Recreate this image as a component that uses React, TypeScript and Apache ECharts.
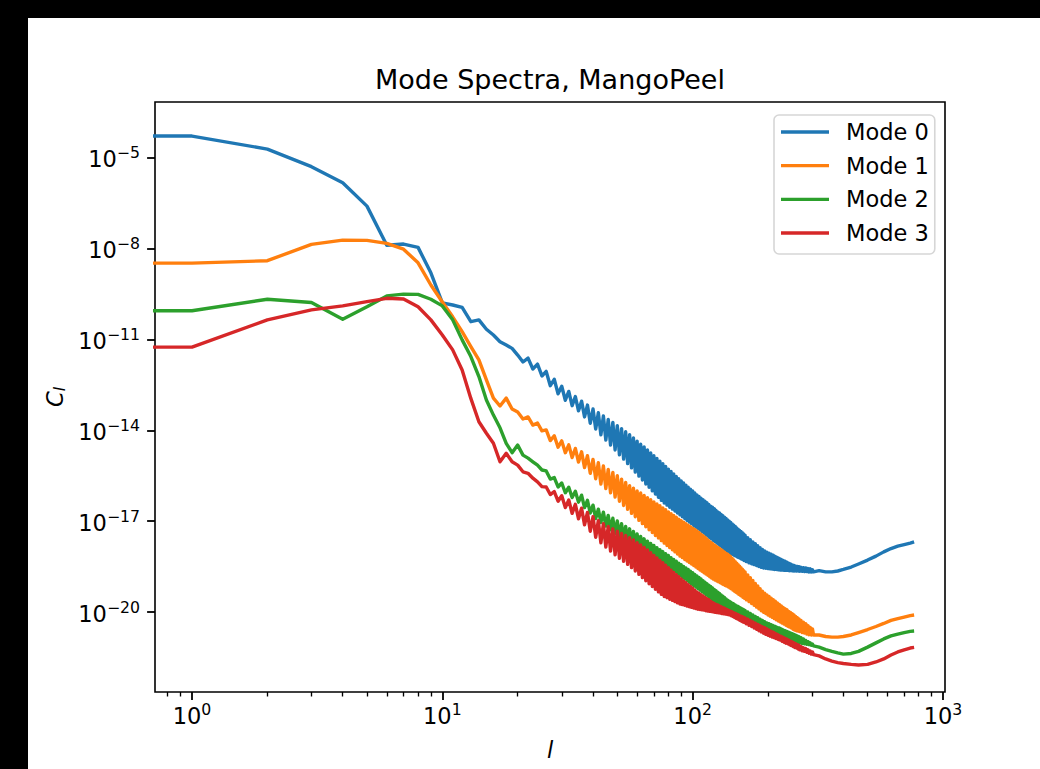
import React, { useEffect, useRef } from "react";
import * as echarts from "echarts";

const ells = [
  0, 1, 2, 3, 4, 5, 6, 7, 8, 9, 10, 11, 12, 13, 14, 15, 16, 17, 18, 19, 20, 21, 22, 23, 24, 25,
  26, 27, 28, 29, 30, 31, 32, 33, 34, 35, 36, 37, 38, 39, 40, 41, 42, 43, 44, 45, 46, 47, 48, 49, 50,
  51, 52, 53, 54, 55, 56, 57, 58, 59, 60, 61, 62, 63, 64, 65, 66, 67, 68, 69, 70, 71, 72, 73, 74, 75,
  76, 77, 78, 79, 80, 81, 82, 83, 84, 85, 86, 87, 88, 89, 90, 91, 92, 93, 94, 95, 96, 97, 98, 99, 100,
  101, 102, 103, 104, 105, 106, 107, 108,
  109, 110, 111, 112, 113, 114, 115, 116, 117, 118, 119, 120, 121, 122, 123, 124, 125, 126, 127, 128, 129, 130,
  131, 132, 133, 134, 135, 136, 137, 138, 139, 140, 141, 142, 143, 144, 145, 146, 147, 148, 149, 150,
  151, 152, 153, 154, 155, 156, 157, 158, 159, 160, 161, 162,
  164, 166, 168, 170, 172, 174, 176, 178, 180, 182, 184, 186, 188, 190, 192, 194, 196, 198, 200, 202, 204, 206, 208, 210, 212, 214, 216,
  218, 220, 222, 224, 226, 228, 230, 232, 234, 236, 238, 240, 242, 244, 246, 248, 250, 252, 254, 256, 258, 260, 262, 264, 266, 268,
  271, 274, 277, 280, 283, 286, 289, 292, 295, 298, 301, 304,
  320, 340, 360, 380, 400, 430, 460, 500, 540, 580, 620, 660, 700, 740, 767,
];

// log10(C_l) for each mode, aligned with ells
const mode0 = [
  -4.30, -4.30, -4.73, -5.31, -5.84, -6.61, -7.90, -7.86, -7.97, -8.81, -9.80, -9.87, -9.95, -10.42, -10.36, -10.67, -10.86, -11.08, -11.19, -11.30, -11.52, -11.75, -11.62, -11.98, -11.82, -12.21,
  -12.06, -12.53, -12.32, -12.80, -12.55, -13.01, -12.72, -13.19, -12.89, -13.36,
  -13.04, -13.56, -13.17, -13.77, -13.30, -13.96, -13.42, -14.15, -13.53, -14.32,
  -13.64, -14.49, -13.74, -14.65, -13.85, -14.81, -13.95, -14.95, -14.05, -15.10,
  -14.15, -15.24, -14.25, -15.38, -14.36, -15.51, -14.46, -15.64, -14.55, -15.77,
  -14.65, -15.88, -14.75, -16.00, -14.84, -16.10, -14.93, -16.21, -15.02, -16.31,
  -15.10, -16.40, -15.19, -16.47, -15.28, -16.54, -15.36, -16.60, -15.44, -16.66,
  -15.52, -16.73, -15.60, -16.79, -15.67, -16.85, -15.74, -16.91, -15.81, -16.97,
  -15.88, -17.03, -15.94, -17.08, -16.00, -17.14, -16.07, -17.19, -16.13, -17.24,
  -16.18, -17.29, -16.24,
  -17.34, -16.29, -17.39, -16.34, -17.44, -16.39, -17.49, -16.45, -17.54, -16.50, -17.58, -16.54,
  -17.63, -16.59, -17.67, -16.64, -17.72, -16.69, -17.76, -16.73, -17.80, -16.78,
  -17.85, -16.82, -17.89, -16.87, -17.93, -16.91, -17.97, -16.96, -18.01, -17.00,
  -18.05, -17.04, -18.08, -17.09, -18.10, -17.13, -18.13, -17.17, -18.15, -17.22,
  -18.18, -17.26, -18.20, -17.30, -18.22, -17.34, -18.25, -17.38, -18.27, -17.42, -18.30, -17.46,
  -18.33, -17.54, -18.37, -17.61, -18.40, -17.68, -18.43, -17.74, -18.46, -17.81, -18.49, -17.87, -18.52, -17.93, -18.54, -17.98, -18.55, -18.02, -18.56, -18.05, -18.57, -18.09, -18.58, -18.12, -18.59, -18.16, -18.59,
  -18.19, -18.60, -18.23, -18.61, -18.26, -18.61, -18.29, -18.62, -18.32, -18.62, -18.35, -18.62, -18.38, -18.63, -18.41, -18.63, -18.44, -18.64, -18.46, -18.64, -18.48, -18.64, -18.49, -18.64, -18.50, -18.65,
  -18.52, -18.65, -18.53, -18.66, -18.54, -18.66, -18.56, -18.67, -18.57, -18.67, -18.60, -18.67,
  -18.63, -18.67, -18.67, -18.64, -18.59, -18.51, -18.41, -18.28, -18.15, -18.01, -17.90, -17.82, -17.77, -17.72, -17.68,
];

const mode1 = [
  -8.49, -8.49, -8.41, -7.87, -7.73, -7.74, -7.84, -8.03, -8.48, -9.21, -9.77, -10.26, -10.75, -11.24, -11.68, -12.34, -12.94, -13.20, -12.94, -13.30, -13.40, -13.63, -13.56, -13.83, -13.76, -14.02,
  -13.99, -14.34, -14.18, -14.56, -14.35, -14.74, -14.48, -14.90, -14.60, -15.05,
  -14.71, -15.23, -14.84, -15.42, -14.96, -15.60, -15.07, -15.77, -15.18, -15.92,
  -15.29, -16.06, -15.39, -16.20, -15.50, -16.34, -15.61, -16.48, -15.72, -16.61,
  -15.83, -16.74, -15.91, -16.85, -16.00, -16.97, -16.07, -17.08, -16.15, -17.18,
  -16.22, -17.28, -16.29, -17.37, -16.36, -17.47, -16.43, -17.55, -16.49, -17.64,
  -16.56, -17.72, -16.62, -17.80, -16.69, -17.87, -16.75, -17.94, -16.81, -18.01,
  -16.87, -18.08, -16.93, -18.15, -16.98, -18.20, -17.03, -18.26, -17.08, -18.31,
  -17.13, -18.36, -17.18, -18.41, -17.23, -18.46, -17.27, -18.51, -17.32, -18.56,
  -17.37, -18.61, -17.43,
  -18.65, -17.48, -18.70, -17.53, -18.74, -17.58, -18.78, -17.64, -18.83, -17.69, -18.87, -17.73,
  -18.91, -17.78, -18.94, -17.82, -18.97, -17.86, -19.00, -17.90, -19.03, -17.94,
  -19.06, -17.98, -19.09, -18.02, -19.12, -18.06, -19.14, -18.09, -19.17, -18.13,
  -19.20, -18.17, -19.23, -18.23, -19.27, -18.28, -19.31, -18.33, -19.34, -18.38,
  -19.37, -18.43, -19.41, -18.48, -19.44, -18.53, -19.47, -18.58, -19.51, -18.63, -19.54, -18.67,
  -19.59, -18.77, -19.65, -18.86, -19.71, -18.95, -19.77, -19.05, -19.83, -19.13, -19.89, -19.22, -19.95, -19.31, -20.00, -19.37, -20.04, -19.43, -20.09, -19.48, -20.13, -19.54, -20.17, -19.59, -20.21, -19.64, -20.25,
  -19.69, -20.29, -19.74, -20.32, -19.79, -20.36, -19.84, -20.39, -19.88, -20.43, -19.92, -20.46, -19.97, -20.49, -20.01, -20.52, -20.05, -20.56, -20.09, -20.59, -20.14, -20.61, -20.18, -20.62, -20.22, -20.64,
  -20.27, -20.67, -20.33, -20.69, -20.38, -20.72, -20.44, -20.74, -20.50, -20.75, -20.55, -20.75,
  -20.75, -20.80, -20.82, -20.82, -20.80, -20.75, -20.67, -20.57, -20.47, -20.37, -20.27, -20.21, -20.16, -20.11, -20.09,
];

const mode2 = [
  -10.06, -10.06, -9.68, -9.79, -10.34, -9.93, -9.57, -9.51, -9.52, -9.68, -9.90, -10.36, -11.02, -11.57, -12.23, -13.00, -13.50, -13.92, -14.43, -14.74, -14.49, -14.82, -14.92, -15.04, -15.15, -15.31,
  -15.34, -15.61, -15.56, -15.87, -15.74, -16.06, -15.88, -16.22, -16.01, -16.37,
  -16.14, -16.55, -16.31, -16.73, -16.47, -16.91, -16.60, -17.04, -16.70, -17.16,
  -16.81, -17.28, -16.90, -17.40, -16.99, -17.51, -17.08, -17.62, -17.17, -17.72,
  -17.25, -17.81, -17.34, -17.88, -17.42, -17.94, -17.50, -18.00, -17.58, -18.07,
  -17.66, -18.13, -17.73, -18.18, -17.80, -18.24, -17.87, -18.30, -17.94, -18.35,
  -18.00, -18.41, -18.07, -18.48, -18.13, -18.54, -18.20, -18.61, -18.26, -18.67,
  -18.32, -18.73, -18.38, -18.79, -18.43, -18.85, -18.49, -18.90, -18.54, -18.96,
  -18.59, -19.01, -18.65, -19.07, -18.70, -19.12, -18.75, -19.17, -18.80, -19.22,
  -18.85, -19.27, -18.90,
  -19.32, -18.96, -19.37, -19.01, -19.42, -19.06, -19.47, -19.11, -19.52, -19.15, -19.56, -19.20,
  -19.61, -19.25, -19.66, -19.29, -19.70, -19.34, -19.74, -19.38, -19.79, -19.43,
  -19.83, -19.47, -19.87, -19.51, -19.91, -19.56, -19.95, -19.60, -19.99, -19.64,
  -20.03, -19.67, -20.05, -19.70, -20.08, -19.73, -20.11, -19.76, -20.13, -19.79,
  -20.15, -19.81, -20.18, -19.84, -20.20, -19.87, -20.23, -19.89, -20.25, -19.92, -20.27, -19.94,
  -20.31, -19.99, -20.35, -20.04, -20.39, -20.09, -20.44, -20.14, -20.48, -20.18, -20.52, -20.23, -20.56, -20.27, -20.59, -20.31, -20.63, -20.35, -20.65, -20.38, -20.68, -20.41, -20.70, -20.44, -20.72, -20.47, -20.75,
  -20.50, -20.77, -20.52, -20.79, -20.55, -20.81, -20.58, -20.83, -20.61, -20.85, -20.63, -20.87, -20.66, -20.89, -20.68, -20.91, -20.71, -20.93, -20.73, -20.95, -20.76, -20.97, -20.78, -20.99, -20.81, -21.01,
  -20.84, -21.03, -20.88, -21.04, -20.93, -21.06, -20.97, -21.07, -21.01, -21.09, -21.05, -21.11,
  -21.15, -21.23, -21.29, -21.34, -21.38, -21.36, -21.29, -21.15, -21.01, -20.88, -20.78, -20.72, -20.67, -20.63, -20.62,
];

const mode3 = [
  -11.26, -11.26, -10.36, -10.03, -9.90, -9.76, -9.65, -9.67, -9.93, -10.36, -10.86, -11.35, -12.01, -12.95, -13.72, -14.10, -14.43, -15.04, -14.76, -15.04, -15.15, -15.37, -15.42, -15.58, -15.70, -15.86,
  -15.87, -16.12, -16.02, -16.34, -16.16, -16.55, -16.30, -16.74, -16.44, -16.92,
  -16.57, -17.12, -16.71, -17.33, -16.85, -17.53, -16.98, -17.71, -17.08, -17.85,
  -17.17, -17.98, -17.25, -18.11, -17.33, -18.22, -17.40, -18.32, -17.47, -18.42,
  -17.54, -18.53, -17.62, -18.64, -17.71, -18.75, -17.78, -18.86, -17.86, -18.96,
  -17.95, -19.06, -18.04, -19.15, -18.13, -19.24, -18.21, -19.33, -18.29, -19.41,
  -18.37, -19.48, -18.45, -19.52, -18.53, -19.57, -18.61, -19.61, -18.69, -19.65,
  -18.76, -19.69, -18.83, -19.73, -18.90, -19.75, -18.97, -19.77, -19.03, -19.80,
  -19.09, -19.82, -19.15, -19.84, -19.21, -19.86, -19.27, -19.88, -19.33, -19.90,
  -19.37, -19.91, -19.42,
  -19.92, -19.46, -19.93, -19.51, -19.95, -19.55, -19.96, -19.59, -19.97, -19.64, -19.98, -19.68,
  -19.99, -19.71, -20.00, -19.74, -20.01, -19.76, -20.02, -19.79, -20.03, -19.82,
  -20.04, -19.85, -20.05, -19.87, -20.06, -19.90, -20.07, -19.92, -20.08, -19.95,
  -20.09, -19.97, -20.12, -19.99, -20.14, -20.02, -20.17, -20.04, -20.20, -20.06,
  -20.22, -20.08, -20.25, -20.11, -20.27, -20.13, -20.30, -20.15, -20.32, -20.17, -20.34, -20.19,
  -20.38, -20.23, -20.43, -20.27, -20.47, -20.32, -20.52, -20.36, -20.56, -20.40, -20.61, -20.44, -20.65, -20.48, -20.69, -20.51, -20.73, -20.55, -20.76, -20.59, -20.79, -20.63, -20.82, -20.66, -20.84, -20.70, -20.87,
  -20.73, -20.90, -20.77, -20.92, -20.80, -20.96, -20.83, -20.99, -20.86, -21.02, -20.89, -21.04, -20.92, -21.07, -20.95, -21.10, -20.98, -21.13, -21.01, -21.16, -21.04, -21.18, -21.07, -21.21, -21.09, -21.24,
  -21.13, -21.27, -21.17, -21.29, -21.20, -21.32, -21.24, -21.35, -21.28, -21.38, -21.31, -21.40,
  -21.44, -21.54, -21.61, -21.66, -21.69, -21.72, -21.74, -21.72, -21.64, -21.54, -21.41, -21.31, -21.24, -21.18, -21.16,
];

const seriesNames = ["Mode 0", "Mode 1", "Mode 2", "Mode 3"];
const seriesColors = ["#1f77b4", "#ff7f0e", "#2ca02c", "#d62728"];
const xMajorTicks = [1, 10, 100, 1000];
const xMinorTicks = [0.8, 0.9, 2, 3, 4, 5, 6, 7, 8, 9, 20, 30, 40, 50, 60, 70, 80, 90, 200, 300, 400, 500, 600, 700, 800, 900];
const yMajorTicks = [1e-20, 1e-17, 1e-14, 1e-11, 1e-8, 1e-5];

const FONT = "DejaVu Sans";

export default function App() {
  const ref = useRef<HTMLDivElement>(null);

  useEffect(() => {
    const chart = echarts.init(ref.current!, undefined, { renderer: "svg" });
    const modes = [mode0, mode1, mode2, mode3];

    const powLabel = (v: number) => {
      const e = Math.round(Math.log10(v));
      const s = e < 0 ? "\u2212" + String(-e) : String(e);
      return "{b|10}{s|" + s + "}";
    };
    const tickRich = {
      b: { fontFamily: FONT, fontSize: 22.5, color: "#000", lineHeight: 22, padding: [4, 0, 0, 0] },
      s: { fontFamily: FONT, fontSize: 15.7, color: "#000", lineHeight: 15.5, padding: [0, 0, 10, 0] },
    };

    const xMin = 0.7115;
    const xMax = 1019;

    const option: any = {
      animation: false,
      backgroundColor: "#ffffff",
      title: {
        text: "Mode Spectra, MangoPeel",
        left: 550,
        top: 66,
        textAlign: "center",
        padding: 0,
        textStyle: { fontFamily: FONT, fontSize: 27, fontWeight: "normal", color: "#000", lineHeight: 27 },
      },
      grid: {
        left: 155,
        top: 102,
        width: 790,
        height: 590,
        show: true,
        borderColor: "#000",
        borderWidth: 1.6,
        backgroundColor: "transparent",
      },
      legend: {
        orient: "vertical",
        left: 774,
        top: 115,
        padding: [4, 6, 8, 7],
        itemWidth: 48,
        itemHeight: 3.4,
        itemGap: 7.67,
        icon: "rect",
        backgroundColor: "#ffffff",
        borderColor: "#d6d6d6",
        borderWidth: 1.6,
        borderRadius: 5,
        itemStyle: { borderWidth: 0 },
        textStyle: { fontFamily: FONT, fontSize: 22.5, color: "#000", lineHeight: 26, padding: [0, 0, 0, 12] },
        data: seriesNames,
      },
      graphic: [
        { type: "rect", x: 0, y: 0, shape: { width: 1040, height: 18 }, style: { fill: "#000" }, silent: true },
        { type: "rect", x: 0, y: 0, shape: { width: 28, height: 769 }, style: { fill: "#000" }, silent: true },
      ],
      xAxis: [
        {
          type: "log",
          logBase: 10,
          min: xMin,
          max: xMax,
          position: "bottom",
          axisLine: { show: false },
          splitLine: { show: false },
          axisTick: { show: true, customValues: xMajorTicks, length: 7.9, lineStyle: { color: "#000", width: 1.8 } },
          axisLabel: { customValues: xMajorTicks, formatter: powLabel, rich: tickRich, margin: 11, color: "#000" },
          name: "l",
          nameLocation: "middle",
          nameGap: 46,
          nameTextStyle: { fontFamily: FONT, fontSize: 22.5, fontStyle: "italic", color: "#000" },
        },
        {
          type: "log",
          logBase: 10,
          min: xMin,
          max: xMax,
          position: "top",
          offset: -590,
          axisLine: { show: false },
          splitLine: { show: false },
          axisLabel: { show: false },
          axisTick: { show: true, inside: true, customValues: xMinorTicks, length: 4.5, lineStyle: { color: "#000", width: 1.35 } },
        },
      ],
      yAxis: {
        type: "log",
        logBase: 10,
        min: Math.pow(10, -22.63),
        max: Math.pow(10, -3.177),
        axisLine: { show: false },
        splitLine: { show: false },
        axisTick: { show: true, customValues: yMajorTicks, length: 7.9, lineStyle: { color: "#000", width: 1.8 } },
        axisLabel: { customValues: yMajorTicks, formatter: powLabel, rich: tickRich, margin: 15, color: "#000" },
        name: "{c|C}{s|l}",
        nameLocation: "middle",
        nameRotate: 90,
        nameGap: 85,
        nameTextStyle: {
          rich: {
            c: { fontFamily: FONT, fontSize: 22.5, fontStyle: "italic", color: "#000", lineHeight: 24 },
            s: { fontFamily: FONT, fontSize: 15.7, fontStyle: "italic", color: "#000", lineHeight: 16, padding: [8, 0, 0, 0] },
          },
        },
      },
      series: modes.map((m, i) => ({
        type: "line",
        name: seriesNames[i],
        xAxisIndex: 0,
        yAxisIndex: 0,
        data: ells.map((l, k) => [l > 0 ? l : 1e-300, Math.pow(10, m[k])]),
        symbol: "none",
        showSymbol: false,
        clip: true,
        silent: true,
        color: seriesColors[i],
        itemStyle: { color: seriesColors[i] },
        lineStyle: { width: 3.4, color: seriesColors[i], join: "round" },
      })),
    };

    chart.setOption(option);
    return () => chart.dispose();
  }, []);

  return <div ref={ref} style={{ position: "absolute", left: 0, top: 0, width: 1040, height: 769 }} />;
}
